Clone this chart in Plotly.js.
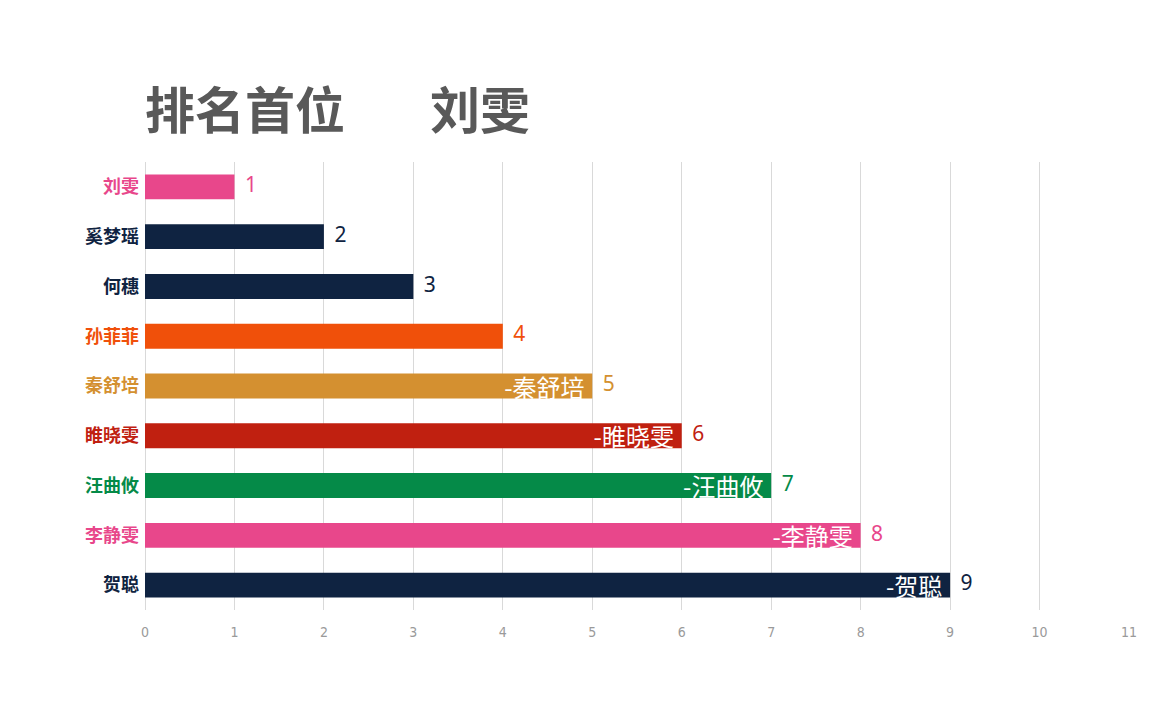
<!DOCTYPE html>
<html>
<head>
<meta charset="utf-8">
<script src="https://cdn.plot.ly/plotly-3.0.1.min.js"></script>
<style>html,body{margin:0;padding:0;background:#fff;}#chart{width:1152px;height:720px;}</style>
</head>
<body>
<div id="chart"></div>
<script>
// Data
const names = ["刘雯", "奚梦瑶", "何穗", "孙菲菲", "秦舒培", "睢晓雯", "汪曲攸", "李静雯", "贺聪"];
const values = [1, 2, 3, 4, 5, 6, 7, 8, 9];
const insideLabels = ["", "", "", "", "-秦舒培", "-睢晓雯", "-汪曲攸", "-李静雯", "-贺聪"];
const titleText = "排名首位\u3000\u2002\u2009刘雯";
const xTicks = [0, 1, 2, 3, 4, 5, 6, 7, 8, 9, 10, 11];

// Styles
const colors = ["#E8478B", "#0F2341", "#0F2341", "#F0500A", "#D49030", "#C02010", "#058A48", "#E8478B", "#0F2341"];

const cjk = '"Noto Sans CJK SC", "Noto Sans", sans-serif';

const bars = {
  type: 'bar',
  orientation: 'h',
  x: values,
  y: names,
  width: 0.5,
  marker: {color: colors, line: {width: 0}},
  text: insideLabels.map(t => t ? t + '\u2009' : t),
  textposition: 'inside',
  insidetextanchor: 'end',
  constraintext: 'none',
  textfont: {family: cjk, size: 24, color: '#ffffff'},
  hoverinfo: 'skip',
  cliponaxis: false
};

const valueLabels = {
  type: 'scatter',
  mode: 'text',
  x: values,
  y: names,
  text: values.map(v => '\u2002' + v),
  textposition: 'middle right',
  textfont: {family: '"Noto Sans", sans-serif', size: 21, color: colors},
  hoverinfo: 'skip',
  cliponaxis: false,
  showlegend: false
};

const layout = {
  width: 1152,
  height: 720,
  paper_bgcolor: '#ffffff',
  plot_bgcolor: '#ffffff',
  showlegend: false,
  margin: {l: 145, r: 23, t: 162, b: 110},
  title: {
    text: '<b>' + titleText + '</b>',
    font: {family: cjk, size: 50, color: '#595959'},
    xref: 'paper', x: 0, xanchor: 'left',
    yref: 'container', y: 1 - 111 / 720, yanchor: 'middle'
  },
  xaxis: {
    range: [0, 11],
    tickvals: xTicks,
    ticktext: xTicks.map(String),
    showgrid: true,
    gridcolor: '#d9d9d9',
    gridwidth: 1,
    zeroline: true,
    zerolinecolor: '#d9d9d9',
    showline: false,
    ticks: '',
    ticklabelstandoff: 12,
    tickfont: {family: '"Liberation Sans Narrow", "DejaVu Sans Condensed", sans-serif', size: 14, color: '#9a9a9a'},
    fixedrange: true
  },
  yaxis: {
    type: 'category',
    autorange: 'reversed',
    tickvals: names,
    ticktext: names.map((n, i) => '<span style="color:' + colors[i] + '"><b>' + n + '</b></span>'),
    tickfont: {family: cjk, size: 18},
    ticks: '',
    ticklabelstandoff: 5,
    showgrid: false,
    showline: false,
    zeroline: false,
    fixedrange: true
  }
};

Plotly.newPlot('chart', [bars, valueLabels], layout, {displayModeBar: false, staticPlot: true});
</script>
</body>
</html>
